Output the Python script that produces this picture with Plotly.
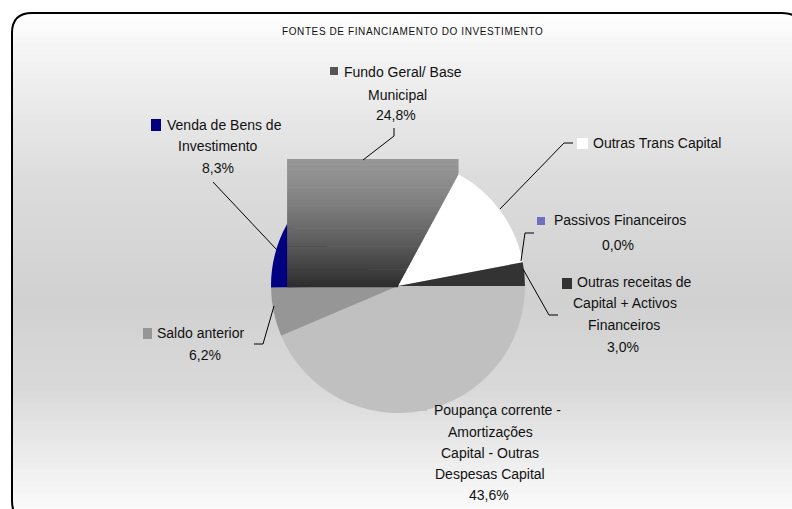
import math
import plotly.graph_objects as go

# ---- data ----
labels = [
    "Poupança corrente - Amortizações Capital - Outras Despesas Capital",
    "Saldo anterior",
    "Venda de Bens de Investimento",
    "Fundo Geral/ Base Municipal",
    "Outras Trans Capital",
    "Passivos Financeiros",
    "Outras receitas de Capital + Activos Financeiros",
]
values = [43.6, 6.2, 8.3, 24.8, 14.1, 0.0, 3.0]
pct_text = ["43,6%", "6,2%", "8,3%", "24,8%", "", "0,0%", "3,0%"]
colors = ["#c0c0c0", "#969696", "#000080", "rgba(0,0,0,0)", "#ffffff", "#6f6fc0", "#333333"]
key_colors = ["#c0c0c0", "#969696", "#000080", "#555555", "#ffffff", "#6f6fc0", "#333333"]
label_lines = [
    ["Poupança corrente -", "Amortizações", "Capital - Outras", "Despesas Capital"],
    ["Saldo anterior"],
    ["Venda de Bens de", "Investimento"],
    ["Fundo Geral/ Base", "Municipal"],
    ["Outras Trans Capital"],
    ["Passivos Financeiros"],
    ["Outras receitas de", "Capital + Activos", "Financeiros"],
]
title_text = "FONTES DE FINANCIAMENTO DO INVESTIMENTO"

W, H = 792, 509
FONT = "Liberation Sans, Arial, sans-serif"
LSIZE = 14
LSP = "0px"


def px(x):
    return x / W


def py(y):
    return 1 - y / H


def spaced(t, sp):
    return f'<span style="letter-spacing:{sp}">{t}</span>'


# pie geometry (pixels)
CX, CY, R = 398, 286, 127
ROT = 90

shapes = []

# background gradient (light - gray - light)
stops = [(13, 255), (50, 244), (180, 220), (300, 209), (390, 217), (470, 240), (520, 253)]


def bg_at(y):
    for (y0, c0), (y1, c1) in zip(stops[:-1], stops[1:]):
        if y0 <= y <= y1:
            t = (y - y0) / (y1 - y0)
            return c0 + (c1 - c0) * t
    return stops[-1][1]


step = 6
y = 13
while y < 520:
    c = int(round(bg_at(y + step / 2)))
    shapes.append(dict(type="rect", xref="paper", yref="paper", layer="below",
                       x0=px(13), x1=px(800), y0=py(y), y1=py(y + step + 0.5),
                       fillcolor=f"rgb({c},{c},{c})", line=dict(width=0)))
    y += step

# slice angles (degrees clockwise from 12 o'clock)
total = sum(values)
angles = []
cum = 0
for v in values:
    a0 = ROT + cum / total * 360
    a1 = a0 + v / total * 360
    angles.append((a0, a1))
    cum += v


def pt(a):
    a = math.radians(a)
    return CX + R * math.sin(a), CY - R * math.cos(a)


# gradient-filled bounding box of the "Fundo Geral" slice (as rendered in the original),
# lying over its left neighbour and under its right neighbour
idx_fundo = 3
a0, a1 = angles[idx_fundo]
pts = [(CX, CY)] + [pt(a0 + (a1 - a0) * k / 200) for k in range(201)]
bx0 = min(p[0] for p in pts)
bx1 = max(p[0] for p in pts)
by0 = min(p[1] for p in pts)
by1 = max(p[1] for p in pts) + 1.2
ex, ey = pt(a1)  # edge shared with the next slice


def xr(yv):
    if yv <= ey:
        return bx1
    t = min((yv - ey) / (CY - ey), 1.0)
    return ex + (CX - ex) * t


NS = 50
for k in range(NS):
    t = (k + 0.5) / NS
    c = int(round(150 - 106 * t ** 1.4))
    ya = by0 + (by1 - by0) * k / NS
    yb = min(by0 + (by1 - by0) * (k + 1) / NS + 0.6, by1)
    pth = (f"M {px(bx0)},{py(ya)} L {px(xr(ya))},{py(ya)} L {px(xr(yb))},{py(yb)} "
           f"L {px(bx0)},{py(yb)} Z")
    shapes.append(dict(type="path", xref="paper", yref="paper", layer="above", path=pth,
                       fillcolor=f"rgb({c},{c},{c})", line=dict(width=0)))

# rounded border
L, T, Rr, B, rad = 12, 13, 802, 521, 20
path = (f"M {px(L)},{py(T + rad)} Q {px(L)},{py(T)} {px(L + rad)},{py(T)} "
        f"L {px(Rr - rad)},{py(T)} Q {px(Rr)},{py(T)} {px(Rr)},{py(T + rad)} "
        f"L {px(Rr)},{py(B - rad)} Q {px(Rr)},{py(B)} {px(Rr - rad)},{py(B)} "
        f"L {px(L + rad)},{py(B)} Q {px(L)},{py(B)} {px(L)},{py(B - rad)} Z")
shapes.append(dict(type="path", xref="paper", yref="paper", layer="above", path=path,
                   line=dict(color="#000000", width=2)))

# label layout: key square, first line (left-anchored), further lines and % (centered)
label_pos = {
    0: dict(key=(417, 399, 427, 411), first=(432, 410), lines=[(490, 432), (490, 453), (490, 474)], pct=(489, 495)),
    1: dict(key=(143, 328, 152, 339), first=(155, 333), lines=[], pct=(205, 355)),
    2: dict(key=(151, 119, 161, 131), first=(165, 125), lines=[(218, 146)], pct=(218, 168)),
    3: dict(key=(330, 67, 338, 75), first=(342, 72), lines=[(397, 95)], pct=(396, 115)),
    4: dict(key=(577, 138, 588, 149), first=(591, 143), lines=[], pct=None),
    5: dict(key=(537, 217, 545, 225), first=(552, 220), lines=[], pct=(618, 245)),
    6: dict(key=(562, 278, 572, 289), first=(575, 282), lines=[(625, 303), (624, 325)], pct=(623, 347)),
}

leaders = [
    [(363, 160), (394, 136), (394, 128)],
    [(277, 250), (213, 182)],
    [(500, 209), (564, 143), (573, 143)],
    [(521, 261), (525, 233), (534, 233)],
    [(523, 269), (549, 315), (558, 315)],
    [(274, 306), (263, 344), (254, 344)],
]
for ln in leaders:
    p = "M " + " L ".join(f"{px(a)},{py(b)}" for a, b in ln)
    shapes.append(dict(type="path", xref="paper", yref="paper", layer="above", path=p,
                       line=dict(color="#000000", width=1)))

lfont = dict(family=FONT, size=LSIZE, color="#111111")
annotations = []
for i, pos in label_pos.items():
    x0, y0, x1, y1 = pos["key"]
    shapes.append(dict(type="rect", xref="paper", yref="paper", layer="above",
                       x0=px(x0), x1=px(x1), y0=py(y1), y1=py(y0),
                       fillcolor=key_colors[i], line=dict(width=0)))
    fx, fy = pos["first"]
    annotations.append(dict(text=spaced(label_lines[i][0], LSP), x=px(fx), y=py(fy),
                            xref="paper", yref="paper", showarrow=False,
                            xanchor="left", yanchor="middle", font=lfont))
    for txt, (lx, ly) in zip(label_lines[i][1:], pos["lines"]):
        annotations.append(dict(text=spaced(txt, LSP), x=px(lx), y=py(ly), xref="paper", yref="paper",
                                showarrow=False, xanchor="center", yanchor="middle", font=lfont))
    if pos["pct"] is not None and pct_text[i]:
        lx, ly = pos["pct"]
        annotations.append(dict(text=spaced(pct_text[i], LSP), x=px(lx), y=py(ly), xref="paper",
                                yref="paper", showarrow=False, xanchor="center", yanchor="middle",
                                font=lfont))

annotations.append(dict(text=spaced(title_text, "0.6px"), x=px(412), y=py(31), xref="paper",
                        yref="paper", showarrow=False, xanchor="center", yanchor="middle",
                        font=dict(family=FONT, size=10, color="#111111")))

fig = go.Figure(go.Pie(
    labels=labels, values=values, sort=False, direction="clockwise", rotation=ROT,
    marker=dict(colors=colors, line=dict(width=0)),
    textinfo="none", showlegend=False,
    domain=dict(x=[px(CX - R), px(CX + R)], y=[py(CY + R), py(CY - R)]),
))
fig.update_layout(
    width=W, height=H, margin=dict(l=0, r=0, t=0, b=0),
    paper_bgcolor="#ffffff", plot_bgcolor="#ffffff",
    shapes=shapes, annotations=annotations, showlegend=False,
)
fig.write_html("out.html")
